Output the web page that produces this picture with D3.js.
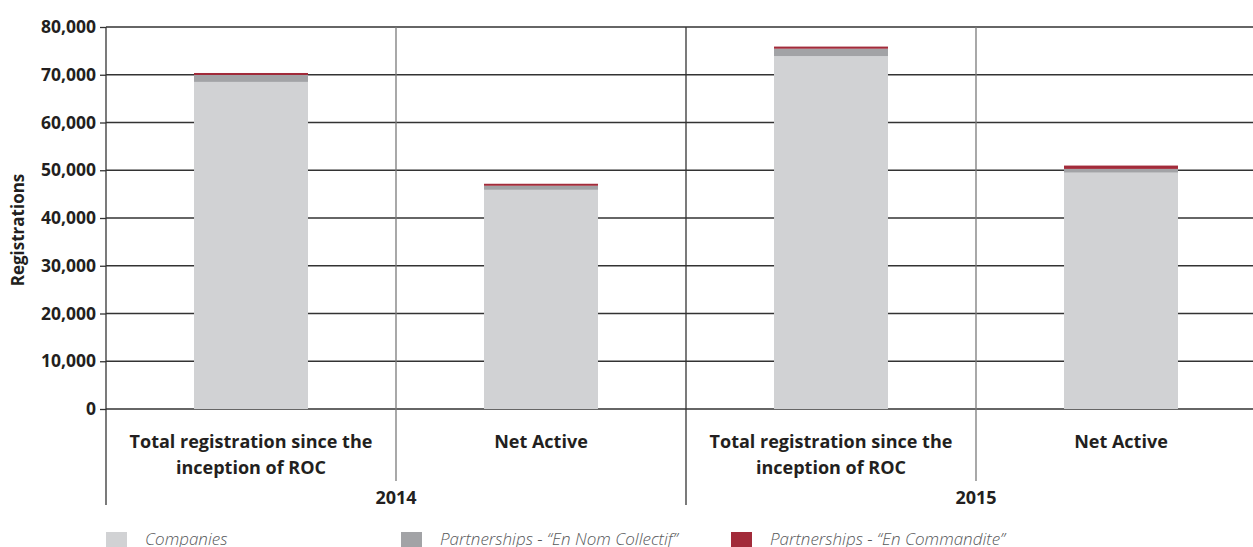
<!DOCTYPE html>
<html>
<head>
<meta charset="utf-8">
<script src="https://d3js.org/d3.v7.min.js"></script>
<style>
  body { margin: 0; background: #fff; }
  svg text { font-family: "Open Sans", sans-serif; fill: #231f20; }
</style>
</head>
<body>
<div id="chart"></div>
<script>
  // chart data
  const years = ["2014", "2015"];
  const categories = ["Total registration since the|inception of ROC", "Net Active"];
  const seriesNames = ["Companies", "Partnerships - \u201cEn Nom Collectif\u201d", "Partnerships - \u201cEn Commandite\u201d"];
  const companies = [68500, 45900, 73900, 49500];
  const collectif = [1450, 850, 1550, 780];
  const commandite = [420, 420, 450, 700];
  const yTicks = [0, 10000, 20000, 30000, 40000, 50000, 60000, 70000, 80000];
  const colors = ["#d1d2d4", "#a2a3a6", "#a22b3a"];

  const W = 1253, H = 547;
  const plotL = 106, plotR = 1266, plotT = 27, plotB = 409;

  const svg = d3.select("#chart").append("svg")
    .attr("width", W).attr("height", H);

  // build rows: one per year x category
  const rows = [];
  years.forEach(function (yr, yi) {
    categories.forEach(function (c, ci) {
      const i = yi * categories.length + ci;
      rows.push({ key: yr + "-" + ci, year: yr, cat: c, s0: companies[i], s1: collectif[i], s2: commandite[i] });
    });
  });

  const x = d3.scaleBand()
    .domain(rows.map(d => d.key))
    .range([plotL, plotR])
    .paddingInner(0.607)
    .paddingOuter(0.3035);

  const y = d3.scaleLinear().domain([0, 80000]).range([plotB, plotT]);

  // gridlines
  svg.append("g").selectAll("line").data(yTicks).enter().append("line")
    .attr("x1", plotL).attr("x2", plotR)
    .attr("y1", d => y(d)).attr("y2", d => y(d))
    .attr("stroke", "#333").attr("stroke-width", 1.3);

  // category dividers
  const step = x.step();
  const dividers = d3.range(1, rows.length);
  svg.append("g").selectAll("line").data(dividers).enter().append("line")
    .attr("x1", d => plotL + d * step).attr("x2", d => plotL + d * step)
    .attr("y1", plotT).attr("y2", d => d % 2 === 0 ? 505 : 481)
    .attr("stroke", d => d % 2 === 0 ? "#333" : "#7a7a7a")
    .attr("stroke-width", 1.3);

  // stacked bars
  const stack = d3.stack().keys(["s0", "s1", "s2"]);
  const stacked = stack(rows);
  svg.append("g").selectAll("g").data(stacked).enter().append("g")
    .attr("fill", (d, i) => colors[i])
    .selectAll("rect").data(d => d).enter().append("rect")
    .attr("x", d => x(d.data.key))
    .attr("width", x.bandwidth())
    .attr("y", d => y(d[1]))
    .attr("height", d => y(d[0]) - y(d[1]));

  // y axis
  const yAxis = d3.axisLeft(y).tickValues(yTicks).tickSize(6).tickPadding(4)
    .tickFormat(d3.format(","));
  const ga = svg.append("g").attr("transform", "translate(" + plotL + ",0)").call(yAxis);
  ga.select(".domain").remove();
  ga.selectAll(".tick line").attr("stroke", "#333").attr("stroke-width", 1.3);
  ga.selectAll(".tick text").attr("font-size", 17.5).attr("font-weight", 700)
    .attr("fill", "#231f20").style("font-family", "'Open Sans', sans-serif");
  svg.append("line").attr("x1", plotL).attr("x2", plotL).attr("y1", plotT).attr("y2", 505)
    .attr("stroke", "#333").attr("stroke-width", 1.3);

  // y title
  svg.append("text")
    .attr("transform", "translate(24," + ((plotT + plotB) / 2 + 12) + ") rotate(-90)")
    .attr("text-anchor", "middle")
    .attr("font-size", 17).attr("font-weight", 700)
    .text("Registrations");

  // category labels
  const cl = svg.append("g").selectAll("text").data(rows).enter().append("text")
    .attr("x", d => x(d.key) + x.bandwidth() / 2)
    .attr("y", 448)
    .attr("text-anchor", "middle")
    .attr("font-size", 18).attr("font-weight", 700);
  cl.selectAll("tspan").data(d => d.cat.split("|")).enter().append("tspan")
    .attr("x", function () { return d3.select(this.parentNode).attr("x"); })
    .attr("dy", (d, i) => i === 0 ? 0 : 26)
    .text(d => d);

  // year labels
  svg.append("g").selectAll("text").data(years).enter().append("text")
    .attr("x", (d, i) => plotL + step * (i * 2 + 1))
    .attr("y", 504)
    .attr("text-anchor", "middle")
    .attr("font-size", 18).attr("font-weight", 700)
    .text(d => d);

  // legend
  const legendX = [106, 401, 731];
  const lg = svg.append("g").selectAll("g").data(seriesNames).enter().append("g")
    .attr("transform", (d, i) => "translate(" + legendX[i] + ",532)");
  lg.append("rect").attr("width", 21).attr("height", 15).attr("fill", (d, i) => colors[i]);
  lg.append("text").attr("x", 39).attr("y", 13)
    .attr("font-size", 17).attr("font-style", "italic").attr("font-weight", 300)
    .style("fill", "#58595b")
    .text(d => d);
</script>
</body>
</html>
